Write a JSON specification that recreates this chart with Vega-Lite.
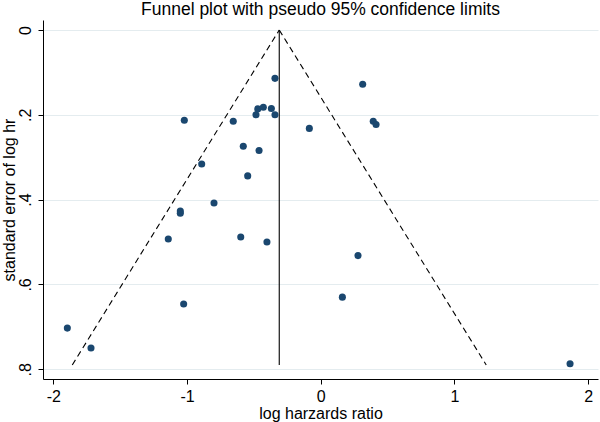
{
  "$schema": "https://vega.github.io/schema/vega-lite/v6.json",
  "autosize": {"type": "none"},
  "width": 555,
  "height": 359,
  "padding": {"left": 43, "top": 20, "right": 2, "bottom": 43},
  "background": "white",
  "title": {
    "text": "Funnel plot with pseudo 95% confidence limits",
    "font": "Liberation Sans",
    "fontSize": 17.5,
    "fontWeight": "normal",
    "color": "#000000",
    "anchor": "middle",
    "offset": 2
  },
  "config": {
    "view": {"stroke": null},
    "font": "Liberation Sans",
    "axis": {
      "labelFont": "Liberation Sans",
      "titleFont": "Liberation Sans",
      "labelFontSize": 16,
      "titleFontSize": 16,
      "titleFontWeight": "normal",
      "labelColor": "#000000",
      "titleColor": "#000000",
      "domainColor": "#000000",
      "tickColor": "#000000",
      "tickSize": 5,
      "domainWidth": 1,
      "tickWidth": 1
    }
  },
  "layer": [
    {
      "data": {"values": [
        {"side": "left", "lhr": -0.31, "se": 0},
        {"side": "left", "lhr": -1.858, "se": 0.79},
        {"side": "right", "lhr": -0.31, "se": 0},
        {"side": "right", "lhr": 1.238, "se": 0.79}
      ]},
      "mark": {"type": "line", "color": "#000000", "strokeWidth": 1.1, "strokeDash": [6, 4], "clip": true},
      "encoding": {
        "x": {
          "field": "lhr", "type": "quantitative",
          "scale": {"domain": [-2.077, 2.074], "nice": false, "zero": false},
          "axis": {
            "title": "log harzards ratio",
            "values": [-2, -1, 0, 1, 2],
            "labelExpr": "toString(datum.value)",
            "grid": false,
            "labelPadding": 4,
            "titlePadding": 1
          }
        },
        "y": {
          "field": "se", "type": "quantitative",
          "scale": {"domain": [-0.0236, 0.823], "reverse": true, "nice": false, "zero": false},
          "axis": {
            "title": "standard error of log hr",
            "values": [0, 0.2, 0.4, 0.6, 0.8],
            "labelExpr": "datum.value == 0 ? '0' : replace(format(datum.value, '.1f'), '0.', '.')",
            "labelAngle": -90,
            "labelAlign": "center",
            "labelBaseline": "bottom",
            "labelPadding": 5,
            "grid": true,
            "gridColor": "#e4ecef",
            "gridWidth": 1,
            "titlePadding": 0
          }
        },
        "detail": {"field": "side"}
      }
    },
    {
      "data": {"values": [
        {"lhr": -0.31, "se": 0},
        {"lhr": -0.31, "se": 0.79}
      ]},
      "mark": {"type": "line", "color": "#000000", "strokeWidth": 1.1},
      "encoding": {
        "x": {"field": "lhr", "type": "quantitative"},
        "y": {"field": "se", "type": "quantitative"}
      }
    },
    {
      "data": {"values": [
        {"lhr": -0.342, "se": 0.114},
        {"lhr": -1.020, "se": 0.213},
        {"lhr": -0.654, "se": 0.215},
        {"lhr": -0.484, "se": 0.200},
        {"lhr": -0.471, "se": 0.186},
        {"lhr": -0.429, "se": 0.182},
        {"lhr": -0.369, "se": 0.185},
        {"lhr": -0.342, "se": 0.200},
        {"lhr": -0.579, "se": 0.274},
        {"lhr": -0.461, "se": 0.284},
        {"lhr": -0.890, "se": 0.316},
        {"lhr": -0.546, "se": 0.344},
        {"lhr": -0.798, "se": 0.408},
        {"lhr": -1.050, "se": 0.427},
        {"lhr": -1.050, "se": 0.432},
        {"lhr": 0.314, "se": 0.128},
        {"lhr": -0.085, "se": 0.232},
        {"lhr": 0.393, "se": 0.215},
        {"lhr": 0.414, "se": 0.223},
        {"lhr": -1.140, "se": 0.493},
        {"lhr": -0.598, "se": 0.488},
        {"lhr": -0.402, "se": 0.500},
        {"lhr": -1.025, "se": 0.646},
        {"lhr": -1.895, "se": 0.703},
        {"lhr": -1.718, "se": 0.750},
        {"lhr": 0.279, "se": 0.532},
        {"lhr": 0.162, "se": 0.630},
        {"lhr": 1.865, "se": 0.787}
      ]},
      "mark": {"type": "circle", "color": "#1a476f", "opacity": 1, "size": 50},
      "encoding": {
        "x": {"field": "lhr", "type": "quantitative"},
        "y": {"field": "se", "type": "quantitative"}
      }
    }
  ]
}
